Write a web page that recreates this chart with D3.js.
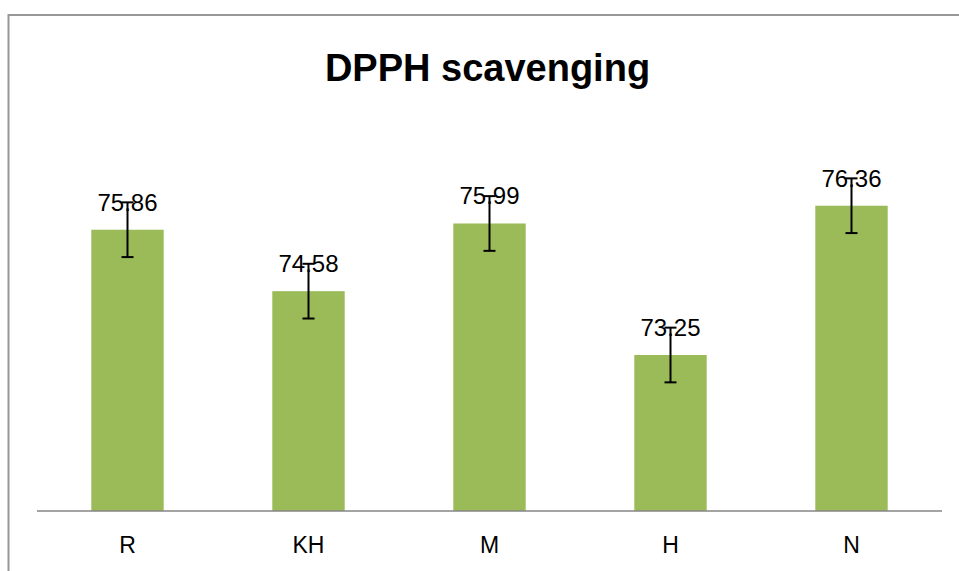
<!DOCTYPE html>
<html>
<head>
<meta charset="utf-8">
<script src="https://cdn.jsdelivr.net/npm/d3@7"></script>
<style>
  html, body { margin: 0; padding: 0; background: #fff; }
  svg { display: block; }
  text { font-family: "Liberation Sans", Arial, sans-serif; fill: #000; }
</style>
</head>
<body>
<svg id="chart" width="959" height="571"></svg>
<script>
const categories = ["R", "KH", "M", "H", "N"];
const values = [75.86, 74.58, 75.99, 73.25, 76.36];
const errors = [0.57, 0.57, 0.57, 0.57, 0.57];
const valueLabels = ["75.86", "74.58", "75.99", "73.25", "76.36"];
const yDomain = [70, 78];
const titleText = "DPPH scavenging";

const svg = d3.select("#chart");

// outer chart border
svg.append("rect")
  .attr("x", 8.5).attr("y", 15)
  .attr("width", 1000).attr("height", 1000)
  .attr("fill", "#fff")
  .attr("stroke", "#979797")
  .attr("stroke-width", 2);

const plot = { left: 37, right: 942, top: 127, bottom: 511 };

const x = d3.scaleBand()
  .domain(categories)
  .range([plot.left, plot.right])
  .paddingInner(0.6)
  .paddingOuter(0.3);

const y = d3.scaleLinear()
  .domain(yDomain)
  .range([plot.bottom, plot.top]);

const data = categories.map((c, i) => ({ c, v: values[i], e: errors[i], l: valueLabels[i] }));

// bars
svg.append("g").selectAll("rect")
  .data(data).enter().append("rect")
  .attr("x", d => x(d.c))
  .attr("y", d => y(d.v))
  .attr("width", x.bandwidth())
  .attr("height", d => y(yDomain[0]) - y(d.v))
  .attr("fill", "#9BBB59");

// x axis
const xAxis = d3.axisBottom(x).tickSize(0).tickPadding(0);
const gx = svg.append("g")
  .attr("transform", `translate(0,${plot.bottom})`)
  .call(xAxis);
gx.select(".domain")
  .attr("d", `M${plot.left},0H${plot.right}`)
  .attr("stroke", "#868686")
  .attr("stroke-width", 1.5);
gx.selectAll(".tick text")
  .attr("y", 42)
  .attr("dy", 0)
  .style("font-size", "23px")
  .style("font-family", '"Liberation Sans", Arial, sans-serif')
  .attr("fill", "#000");

// value labels
svg.append("g").selectAll("text")
  .data(data).enter().append("text")
  .attr("x", d => x(d.c) + x.bandwidth() / 2)
  .attr("y", d => y(d.v) - 19)
  .attr("text-anchor", "middle")
  .style("font-size", "24px")
  .text(d => d.l);

// error bars
const eb = svg.append("g").attr("stroke", "#000").attr("stroke-width", 2);
data.forEach(d => {
  const cx = x(d.c) + x.bandwidth() / 2;
  eb.append("line")
    .attr("x1", cx).attr("x2", cx)
    .attr("y1", y(d.v + d.e)).attr("y2", y(d.v - d.e));
  [d.v + d.e, d.v - d.e].forEach(val => {
    eb.append("line")
      .attr("x1", cx - 6).attr("x2", cx + 6)
      .attr("y1", y(val)).attr("y2", y(val));
  });
});

// title
svg.append("text")
  .attr("x", 487.5)
  .attr("y", 81)
  .attr("text-anchor", "middle")
  .style("font-size", "38px")
  .style("font-weight", "bold")
  .text(titleText);
</script>
</body>
</html>
